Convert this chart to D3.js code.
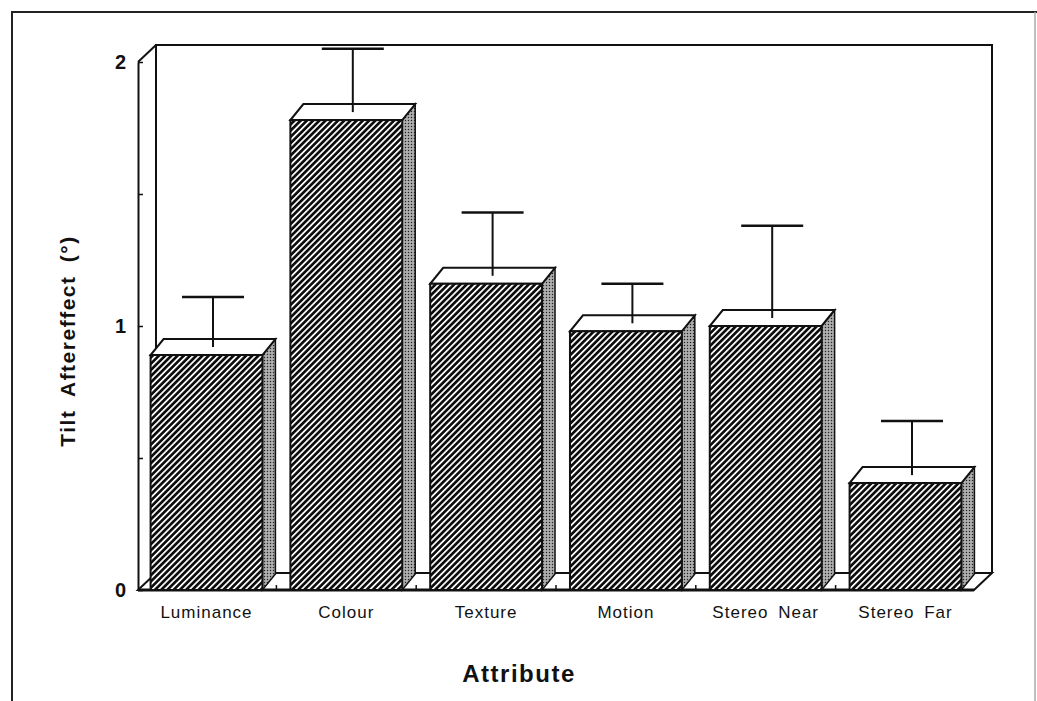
<!DOCTYPE html>
<html lang="en">
  <head>
    <meta charset="UTF-8" />
    <title>Tilt Aftereffect by Attribute</title>
    <script src="https://d3js.org/d3.v7.min.js"></script>
    <style>
      body {
        margin: 0;
        background: #fff;
      }
      text {
        font-family: 'Liberation Sans', Arial, Helvetica, sans-serif;
        fill: #111;
      }
    </style>
  </head>
  <body>
    <svg width="1037" height="701"></svg>
    <script>
      // values (front face top = mean, whisker = upper error)
      const categories = ['Luminance', 'Colour', 'Texture', 'Motion', 'Stereo Near', 'Stereo Far'];
      const means = [0.89, 1.78, 1.16, 0.98, 1.0, 0.405];
      const errors = [0.22, 0.27, 0.27, 0.18, 0.38, 0.235];
      const yTicks = [0, 0.5, 1, 1.5, 2];
      const yLabels = [0, 1, 2];

      const data = categories.map((c, i) => ({ name: c, mean: means[i], err: errors[i] }));

      const svg = d3.select('svg');

      // depth offsets for the fake 3d look
      const wallDx = 18, wallDy = -17;
      const barDx = 13, barDy = -16;

      const x = d3
        .scaleBand()
        .domain(categories)
        .range([138, 974])
        .paddingInner(0.2)
        .paddingOuter(0.09);

      const y = d3.scaleLinear().domain([0, 2]).range([590, 62]);

      const x0 = x.range()[0], x1 = x.range()[1];
      const yBase = y(0), yTop = y(2);

      // outer frame of the scanned figure
      svg
        .append('path')
        .attr('d', 'M12,701 L12,12 L1037,12')
        .attr('fill', 'none')
        .attr('stroke', '#222')
        .attr('stroke-width', 2);
      svg
        .append('line')
        .attr('x1', 1035)
        .attr('x2', 1035)
        .attr('y1', 12)
        .attr('y2', 701)
        .attr('stroke', '#aaa')
        .attr('stroke-width', 1.5);

      // back wall
      svg
        .append('path')
        .attr(
          'd',
          `M${x0 + wallDx},${yBase + wallDy} L${x0 + wallDx},${yTop + wallDy} L${x1 + wallDx},${yTop + wallDy} L${x1 + wallDx},${yBase + wallDy}`,
        )
        .attr('fill', 'none')
        .attr('stroke', '#111')
        .attr('stroke-width', 2);

      // floor
      svg
        .append('path')
        .attr(
          'd',
          `M${x0},${yBase} L${x1},${yBase} L${x1 + wallDx},${yBase + wallDy} L${x0 + wallDx},${yBase + wallDy} Z`,
        )
        .attr('fill', '#fff')
        .attr('stroke', '#111')
        .attr('stroke-width', 2);

      svg
        .append('line')
        .attr('x1', x0)
        .attr('x2', x1)
        .attr('y1', yBase)
        .attr('y2', yBase)
        .attr('stroke', '#111')
        .attr('stroke-width', 3);

      // small marks on the floor edge between categories
      svg
        .append('g')
        .selectAll('line')
        .data(categories.slice(1))
        .join('line')
        .attr('x1', (d) => x(d) - (x.step() - x.bandwidth()) / 2)
        .attr('x2', (d) => x(d) - (x.step() - x.bandwidth()) / 2)
        .attr('y1', yBase)
        .attr('y2', yBase - 5)
        .attr('stroke', '#111')
        .attr('stroke-width', 1.5);

      // patterns
      const defs = svg.append('defs');
      const hatch = defs
        .append('pattern')
        .attr('id', 'hatch')
        .attr('patternUnits', 'userSpaceOnUse')
        .attr('width', 4.4)
        .attr('height', 10)
        .attr('patternTransform', 'rotate(45)');
      hatch.append('rect').attr('width', 4.4).attr('height', 10).attr('fill', '#0d0d0d');
      hatch.append('rect').attr('x', 0).attr('width', 1.7).attr('height', 10).attr('fill', '#fff');

      const dots = defs
        .append('pattern')
        .attr('id', 'dots')
        .attr('patternUnits', 'userSpaceOnUse')
        .attr('width', 3)
        .attr('height', 3);
      dots.append('rect').attr('width', 3).attr('height', 3).attr('fill', '#9a9a9a');
      dots.append('rect').attr('width', 1).attr('height', 1).attr('fill', '#222');
      dots.append('rect').attr('x', 1.5).attr('y', 1.5).attr('width', 1).attr('height', 1).attr('fill', '#eee');

      // front y axis
      const yAxis = d3
        .axisLeft(y)
        .tickValues(yTicks)
        .tickSizeInner(-5)
        .tickSizeOuter(0)
        .tickPadding(12)
        .tickFormat((d) => (yLabels.includes(d) ? d3.format('d')(d) : ''));

      const ax = svg.append('g').attr('transform', `translate(${x0},0)`).call(yAxis);
      ax.select('.domain').attr('stroke', '#111').attr('stroke-width', 2);
      ax.selectAll('.tick line').attr('stroke', '#111').attr('stroke-width', 1.5);
      ax.selectAll('.tick text')
        .style('font-size', '20px')
        .style('font-weight', 'bold')
        .attr('fill', '#111');

      // connector from front axis top to back wall
      svg
        .append('line')
        .attr('x1', x0)
        .attr('y1', yTop)
        .attr('x2', x0 + wallDx)
        .attr('y2', yTop + wallDy)
        .attr('stroke', '#111')
        .attr('stroke-width', 2);

      // bars
      const bars = svg.append('g').selectAll('g').data(data).join('g');

      bars
        .append('path')
        .attr('d', (d) => {
          const r = x(d.name) + x.bandwidth();
          return `M${r},${y(d.mean)} L${r + barDx},${y(d.mean) + barDy} L${r + barDx},${yBase + barDy} L${r},${yBase} Z`;
        })
        .attr('fill', 'url(#dots)')
        .attr('stroke', '#111')
        .attr('stroke-width', 1.5);

      bars
        .append('path')
        .attr('d', (d) => {
          const l = x(d.name), r = l + x.bandwidth(), t = y(d.mean);
          return `M${l},${t} L${r},${t} L${r + barDx},${t + barDy} L${l + barDx},${t + barDy} Z`;
        })
        .attr('fill', '#fff')
        .attr('stroke', '#111')
        .attr('stroke-width', 2);

      bars
        .append('rect')
        .attr('x', (d) => x(d.name))
        .attr('y', (d) => y(d.mean))
        .attr('width', x.bandwidth())
        .attr('height', (d) => yBase - y(d.mean))
        .attr('fill', 'url(#hatch)')
        .attr('stroke', '#111')
        .attr('stroke-width', 2);

      // error whiskers (upper only)
      const capW = 62;
      const cx = (d) => x(d.name) + x.bandwidth() / 2 + barDx / 2;

      bars
        .append('line')
        .attr('x1', cx)
        .attr('x2', cx)
        .attr('y1', (d) => y(d.mean) + barDy / 2)
        .attr('y2', (d) => y(d.mean + d.err))
        .attr('stroke', '#111')
        .attr('stroke-width', 2);

      bars
        .append('line')
        .attr('x1', (d) => cx(d) - capW / 2)
        .attr('x2', (d) => cx(d) + capW / 2)
        .attr('y1', (d) => y(d.mean + d.err))
        .attr('y2', (d) => y(d.mean + d.err))
        .attr('stroke', '#111')
        .attr('stroke-width', 2.5);

      // category labels
      svg
        .append('g')
        .selectAll('text')
        .data(categories)
        .join('text')
        .attr('x', (d) => x(d) + x.bandwidth() / 2)
        .attr('y', 618)
        .attr('text-anchor', 'middle')
        .style('font-size', '17px')
        .style('letter-spacing', '1px')
        .style('word-spacing', '4px')
        .text((d) => d);

      // axis titles
      svg
        .append('text')
        .attr('x', 519)
        .attr('y', 682)
        .attr('text-anchor', 'middle')
        .style('font-size', '24px')
        .style('font-weight', 'bold')
        .style('letter-spacing', '1.5px')
        .text('Attribute');

      svg
        .append('text')
        .attr('transform', 'translate(75,341) rotate(-90)')
        .attr('text-anchor', 'middle')
        .style('font-size', '21px')
        .style('font-weight', 'bold')
        .style('letter-spacing', '1.5px')
        .style('word-spacing', '6px')
        .text('Tilt Aftereffect (°)');
    </script>
  </body>
</html>
